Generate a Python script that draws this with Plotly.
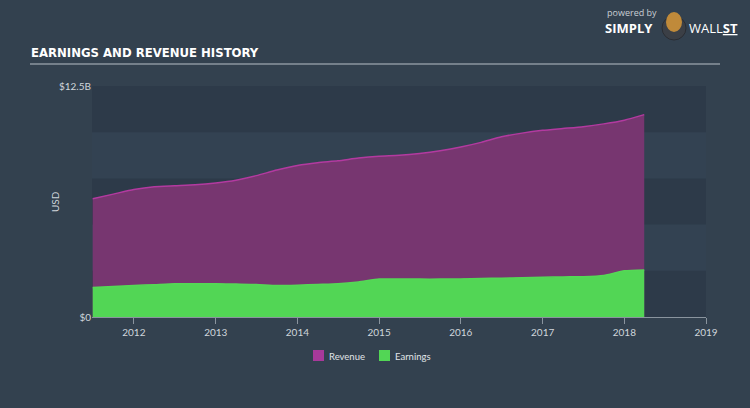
import plotly.graph_objects as go

dates = ["2011-07-01", "2011-10-01", "2012-01-01", "2012-04-01", "2012-07-01", "2012-10-01",
         "2013-01-01", "2013-04-01", "2013-07-01", "2013-10-01", "2014-01-01", "2014-04-01",
         "2014-07-01", "2014-10-01", "2015-01-01", "2015-04-01", "2015-07-01", "2015-10-01",
         "2016-01-01", "2016-04-01", "2016-07-01", "2016-10-01", "2017-01-01", "2017-04-01",
         "2017-07-01", "2017-10-01", "2018-01-01", "2018-03-31"]
revenue = [6.4, 6.65, 6.9, 7.05, 7.1, 7.15, 7.25, 7.4, 7.65, 7.95, 8.2, 8.35,
           8.45, 8.6, 8.7, 8.75, 8.85, 9.0, 9.2, 9.45, 9.75, 9.95, 10.1, 10.2,
           10.3, 10.45, 10.65, 10.95]
earnings = [1.6, 1.65, 1.7, 1.75, 1.8, 1.8, 1.8, 1.78, 1.76, 1.7, 1.72, 1.76,
            1.8, 1.9, 2.05, 2.06, 2.05, 2.05, 2.06, 2.08, 2.1, 2.12, 2.15, 2.17,
            2.18, 2.25, 2.5, 2.55]
year_ticks = ["2012-01-01", "2013-01-01", "2014-01-01", "2015-01-01",
              "2016-01-01", "2017-01-01", "2018-01-01", "2019-01-01"]
year_labels = ["2012", "2013", "2014", "2015", "2016", "2017", "2018", "2019"]
series_names = ["Revenue", "Earnings"]

REV_FILL, REV_LINE, REV_KEY = "#773670", "#b33aa0", "#a8399a"
EARN = "#52d655"
TXT = "#d0d6dc"

L, R, T, B, W, H = 92, 44, 86, 91, 750, 408
PW, PH = W - L - R, H - T - B


def px(x):
    return (x - L) / PW


def py(y):
    return (H - B - y) / PH


fig = go.Figure()
fig.add_trace(go.Scatter(x=dates, y=revenue, name=series_names[0], mode="lines",
                         line=dict(color=REV_LINE, width=1.5, shape="spline", smoothing=0.6),
                         fill="tozeroy", fillcolor=REV_FILL, showlegend=False))
fig.add_trace(go.Scatter(x=dates, y=earnings, name=series_names[1], mode="lines",
                         line=dict(color="#55d856", width=1.5, shape="spline", smoothing=0.6),
                         fill="tozeroy", fillcolor=EARN, showlegend=False))

shapes = []
for lo, hi in [(0, 2.5), (5, 7.5), (10, 12.5)]:
    shapes.append(dict(type="rect", xref="paper", yref="y", x0=0, x1=1, y0=lo, y1=hi,
                       fillcolor="#2d3a49", line=dict(width=0), layer="below"))
# title underline
shapes.append(dict(type="line", xref="paper", yref="paper", x0=px(30), x1=px(720),
                   y0=py(64), y1=py(64), line=dict(color="#b8c0c8", width=1.2)))
# logo badge
shapes.append(dict(type="circle", xref="paper", yref="paper",
                   x0=px(662), x1=px(686), y0=py(40), y1=py(16),
                   fillcolor="#3b3f46", line=dict(color="#2a2d33", width=1)))
shapes.append(dict(type="circle", xref="paper", yref="paper",
                   x0=px(666), x1=px(682), y0=py(32), y1=py(12),
                   fillcolor="#c08a3a", line=dict(width=0)))

annotations = [
    dict(text="USD", xref="paper", yref="paper", x=px(55), y=py(202),
         xanchor="center", yanchor="middle", textangle=-90, showarrow=False,
         font=dict(family="Lato", size=10, color=TXT)),
    dict(text="<b>EARNINGS AND REVENUE HISTORY</b>", xref="paper", yref="paper",
         x=px(29), y=py(52), xanchor="left", yanchor="middle", showarrow=False,
         font=dict(family="DejaVu Sans Condensed", size=13, color="#ffffff")),
    dict(text="powered by", xref="paper", yref="paper", x=px(605), y=py(13),
         xanchor="left", yanchor="middle", showarrow=False,
         font=dict(family="Open Sans", size=9, color="#c8ced4")),
    dict(text="<b>SIMPLY</b>", xref="paper", yref="paper", x=px(603), y=py(28),
         xanchor="left", yanchor="middle", showarrow=False,
         font=dict(family="Open Sans", size=13, color="#ffffff")),
    dict(text="WALL<b><u>ST</u></b>", xref="paper", yref="paper", x=px(687), y=py(28),
         xanchor="left", yanchor="middle", showarrow=False,
         font=dict(family="Open Sans", size=13, color="#ffffff")),
]

# legend (square swatches)
for name, color, sx in [(series_names[0], REV_KEY, 313), (series_names[1], EARN, 379)]:
    shapes.append(dict(type="rect", xref="paper", yref="paper",
                       x0=px(sx), x1=px(sx + 11), y0=py(361), y1=py(350),
                       fillcolor=color, line=dict(width=0)))
    annotations.append(dict(text=name, xref="paper", yref="paper", x=px(sx + 14), y=py(356),
                            xanchor="left", yanchor="middle", showarrow=False,
                            font=dict(family="Lato", size=9.5, color="#e0e4e8")))

fig.update_layout(
    width=W, height=H,
    margin=dict(l=L, r=R, t=T, b=B),
    paper_bgcolor="#33414f", plot_bgcolor="#334252",
    font=dict(family="Lato", color=TXT, size=10),
    shapes=shapes,
    annotations=annotations,
    showlegend=False,
    xaxis=dict(type="date", range=["2011-06-28", "2019-01-01"],
               tickvals=year_ticks, ticktext=year_labels,
               showgrid=False, zeroline=False, showline=True, linecolor="#8a949e",
               ticks="outside", ticklen=6, tickcolor="#8a949e",
               tickfont=dict(family="Lato", size=10, color=TXT)),
    yaxis=dict(range=[0, 12.5], tickvals=[0, 12.5], ticktext=["$0", "$12.5B"],
               showgrid=False, zeroline=False, showline=False,
               tickfont=dict(family="Lato", size=10, color=TXT)),
)

fig.write_html("out.html")
